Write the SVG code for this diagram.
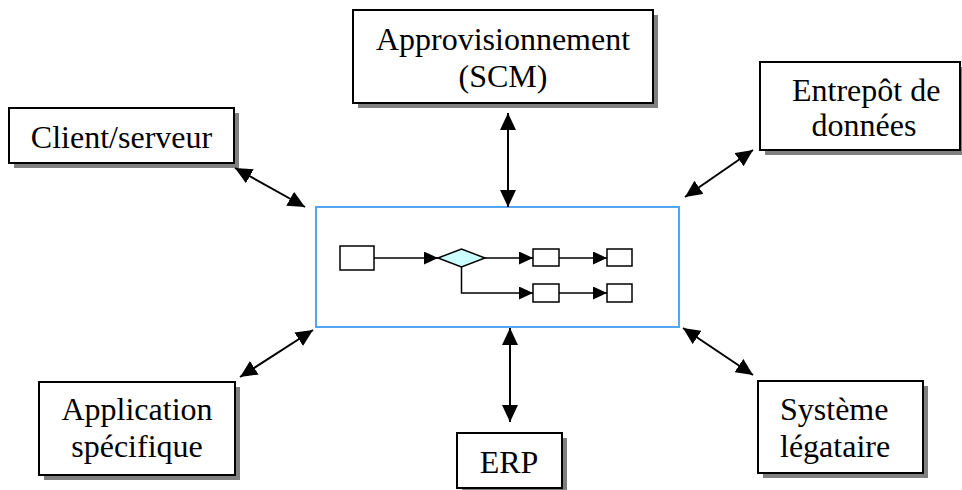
<svg xmlns="http://www.w3.org/2000/svg" width="962" height="490" viewBox="0 0 962 490">
<style>
.box{fill:#fff;stroke:#000;stroke-width:2}
.sh{fill:#808080}
.t{font-family:"Liberation Serif","Times New Roman",serif;font-size:32px;fill:#000}
.c{stroke:#000;stroke-width:2;fill:none}
.ib{fill:#fff;stroke:#000;stroke-width:1.5}
</style>
<defs>
<marker id="ah" markerUnits="userSpaceOnUse" markerWidth="17" markerHeight="16" refX="17" refY="8" orient="auto-start-reverse" viewBox="0 0 17 16">
<path d="M0,0 L17,8 L0,16 z" fill="#000"/>
</marker>
<marker id="ai" markerUnits="userSpaceOnUse" markerWidth="14" markerHeight="13" refX="14" refY="6.5" orient="auto" viewBox="0 0 14 13">
<path d="M0,0 L14,6.5 L0,13 z" fill="#000"/>
</marker>
</defs>
<rect width="962" height="490" fill="#fff"/>

<g id="appro">
<rect class="sh" x="358" y="15" width="300" height="93"/>
<rect class="box" x="353" y="10" width="300" height="93"/>
<text class="t" x="503" y="50" text-anchor="middle">Approvisionnement</text>
<text class="t" x="503" y="87" text-anchor="middle">(SCM)</text>
</g>

<g id="client">
<rect class="sh" x="14" y="113" width="225" height="55"/>
<rect class="box" x="9" y="108" width="225" height="55"/>
<text class="t" x="121.5" y="148" text-anchor="middle">Client/serveur</text>
</g>

<g id="entrepot">
<rect class="sh" x="765" y="67" width="200" height="88"/>
<rect class="box" x="760" y="62" width="200" height="88"/>
<text class="t" x="792" y="101">Entrepôt de</text>
<text class="t" x="864" y="136" text-anchor="middle">données</text>
</g>

<g id="application">
<rect class="sh" x="44" y="387" width="196" height="93"/>
<rect class="box" x="39" y="382" width="196" height="93"/>
<text class="t" x="137" y="420" text-anchor="middle">Application</text>
<text class="t" x="137" y="457" text-anchor="middle">spécifique</text>
</g>

<g id="erp">
<rect class="sh" x="462" y="438" width="105" height="55"/>
<rect class="box" x="457" y="433" width="105" height="55"/>
<text class="t" x="509" y="473" text-anchor="middle">ERP</text>
</g>

<g id="systeme">
<rect class="sh" x="763" y="386" width="165" height="92"/>
<rect class="box" x="758" y="381" width="165" height="92"/>
<text class="t" x="780" y="420">Système</text>
<text class="t" x="780" y="457">légataire</text>
</g>

<g id="central">
<rect x="316" y="207" width="363" height="120" fill="#fff" stroke="#55a5f5" stroke-width="2"/>
<rect class="ib" x="340" y="246" width="34" height="24"/>
<polygon points="438,258 461.5,249 485,258 461.5,267" fill="#ccffff" stroke="#000" stroke-width="1.5"/>
<rect class="ib" x="533" y="249" width="26" height="17"/>
<rect class="ib" x="607" y="249" width="25" height="17"/>
<rect class="ib" x="533" y="284" width="26" height="18"/>
<rect class="ib" x="607" y="284" width="25" height="18"/>
<g stroke="#000" stroke-width="1.5" fill="none">
<line x1="374" y1="258" x2="438" y2="258" marker-end="url(#ai)"/>
<line x1="485" y1="258" x2="533" y2="258" marker-end="url(#ai)"/>
<line x1="559" y1="258" x2="607" y2="258" marker-end="url(#ai)"/>
<polyline points="461.5,267 461.5,293 533,293" marker-end="url(#ai)"/>
<line x1="559" y1="293" x2="607" y2="293" marker-end="url(#ai)"/>
</g>
</g>

<g id="connectors">
<line class="c" x1="235" y1="168" x2="305" y2="207" marker-start="url(#ah)" marker-end="url(#ah)"/>
<line class="c" x1="508" y1="113" x2="508" y2="207" marker-start="url(#ah)" marker-end="url(#ah)"/>
<line class="c" x1="753" y1="150" x2="685" y2="197" marker-start="url(#ah)" marker-end="url(#ah)"/>
<line class="c" x1="313" y1="330" x2="240" y2="377" marker-start="url(#ah)" marker-end="url(#ah)"/>
<line class="c" x1="510" y1="328" x2="510" y2="422" marker-start="url(#ah)" marker-end="url(#ah)"/>
<line class="c" x1="683" y1="328" x2="753" y2="375" marker-start="url(#ah)" marker-end="url(#ah)"/>
</g>
</svg>
